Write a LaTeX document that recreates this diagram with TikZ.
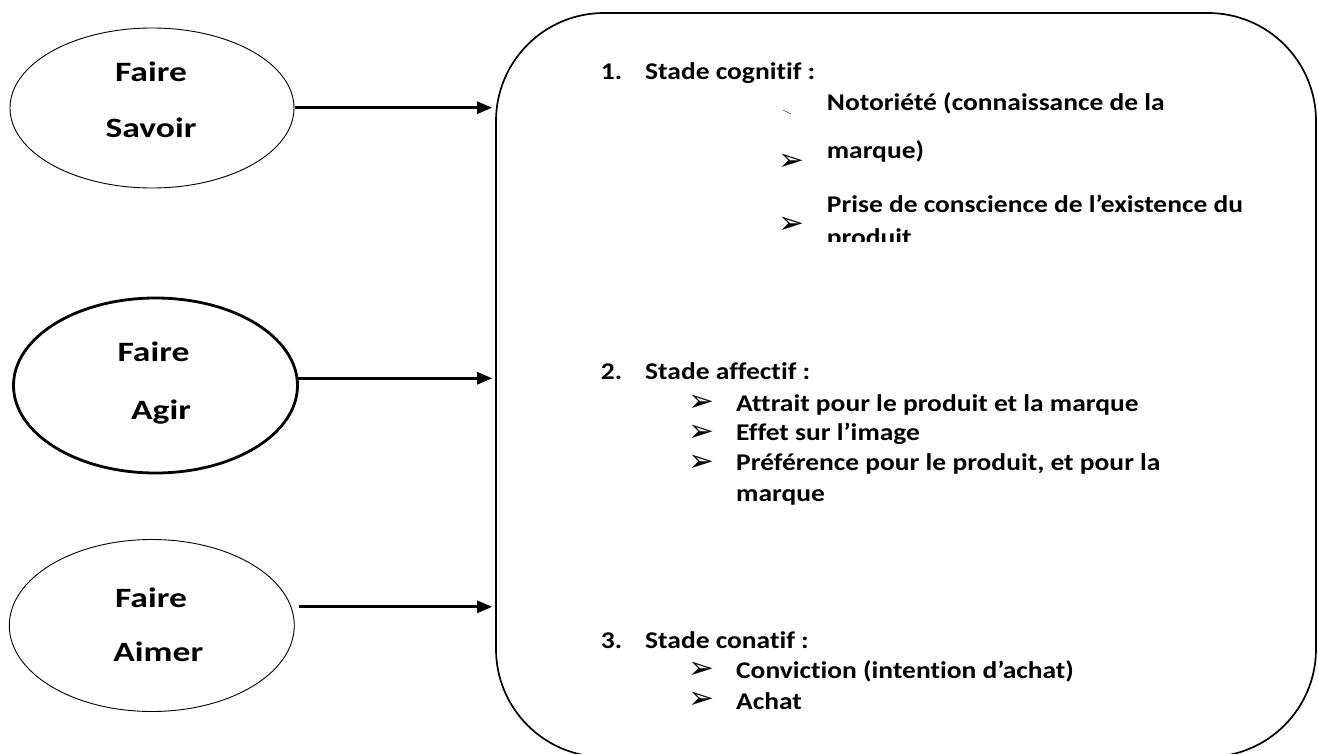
\documentclass[tikz,border=0pt]{standalone}
\usepackage{fontspec}
\setmainfont{Carlito}
\newfontfamily\bxfont[FakeStretch=1.145,Ligatures=NoCommon]{Carlito}
\newfontfamily\elfont[FakeStretch=1.27,Ligatures=NoCommon]{Carlito}
\newfontfamily\dv{DejaVu Sans}
\usetikzlibrary{arrows.meta,shapes.geometric}
\begin{document}
\begin{tikzpicture}[x=1pt,y=-1pt,
  oval/.style={draw,ellipse,inner sep=0pt},
  txt/.style={font=\bxfont\bfseries\fontsize{24}{28}\selectfont, anchor=base west, inner sep=0pt},
  etxt/.style={font=\elfont\bfseries\fontsize{28}{32}\selectfont, anchor=base, inner sep=0pt},
  arr/.style={line width=2.7pt,-{Triangle[length=15pt,width=12pt]},shorten >=3pt},
  bul/.style={font=\dv\fontsize{31}{31}\selectfont, anchor=center, inner sep=0pt}]
\useasboundingbox (0,0) rectangle (1318,754);
\begin{scope}
\clip (0,0) rectangle (1318,754);
% big rounded box
\node[draw, rounded corners=108pt, minimum width=820pt, minimum height=744pt, line width=1.7pt] (box) at (906,385) {};
% ellipses
\node[oval, line width=0.9pt, minimum width=284pt, minimum height=160pt] (e1) at (152,108) {};
\node[oval, line width=2.8pt, minimum width=284pt, minimum height=175pt] (e2) at (155.5,385.5) {};
\node[oval, line width=0.9pt, minimum width=285pt, minimum height=172pt] (e3) at (151.8,625.5) {};
\node[etxt] (t1a) at (151,81.7) {Faire};
\node[etxt] (t1b) at (151,137.7) {Savoir};
\node[etxt] (t2a) at (153.5,361.7) {Faire};
\node[etxt] (t2b) at (161,419) {Agir};
\node[etxt] (t3a) at (151,607) {Faire};
\node[etxt] (t3b) at (158.3,661.7) {Aimer};
% arrows
\coordinate (s1) at (294.5,107.7);
\coordinate (s2) at (298,378.3);
\coordinate (s3) at (299,606.8);
\draw[arr] (s1) -- (s1 -| box.west);
\draw[arr] (s2) -- (s2 -| box.west);
\draw[arr] (s3) -- (s3 -| box.west);
% stage 1
\node[txt] (n1) at (600.7,79.3) {1.};
\node[txt] (h1) at (645,79.3) {Stade cognitif :};
\draw[line width=0.4pt] (783,110) -- (791,114);
\node[txt] (c1) at (826.7,110.7) {Notoriété (connaissance de la};
\node[bul] (b1) at (791.5,162.5) {➢};
\node[txt] (c2) at (826.7,159) {marque)};
\node[bul] (b2) at (791.5,225) {➢};
\node[txt] (c3) at (826.7,213) {Prise de conscience de l’existence du};
\begin{scope}
\clip (700,200) rectangle (1300,241.5);
\node[txt] (c4) at (826.7,245.5) {produit};
\end{scope}
% stage 2
\node[txt] (n2) at (600.7,379.3) {2.};
\node[txt] (h2) at (645,379.3) {Stade affectif :};
\node[bul] (b3) at (701.5,403.5) {➢};
\node[txt] (a1) at (736,411.7) {Attrait pour le produit et la marque};
\node[bul] (b4) at (701.5,433) {➢};
\node[txt] (a2) at (736,440) {Effet sur l’image};
\node[bul] (b5) at (701.5,463) {➢};
\node[txt] (a3) at (736,470) {Préférence pour le produit, et pour la};
\node[txt] (a4) at (736,501.7) {marque};
% stage 3
\node[txt] (n3) at (600.7,648.3) {3.};
\node[txt] (h3) at (645,648.3) {Stade conatif :};
\node[bul] (b6) at (701.5,670.5) {➢};
\node[txt] (k1) at (736,678.3) {Conviction (intention d’achat)};
\node[bul] (b7) at (701.5,700.5) {➢};
\node[txt] (k2) at (736,709.3) {Achat};
\end{scope}
\end{tikzpicture}
\end{document}
